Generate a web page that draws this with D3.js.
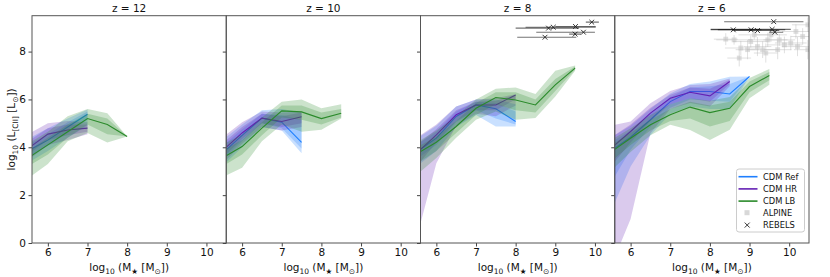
<!DOCTYPE html>
<html>
<head>
<meta charset="utf-8">
<script src="https://cdn.jsdelivr.net/npm/d3@7"></script>
<style>
  body { margin: 0; background: #fff; }
  svg { font-family: "DejaVu Sans", sans-serif; }
</style>
</head>
<body>
<svg id="chart" width="830" height="277"></svg>
<script>
// rows: [log10 M*, median, inner lo, inner hi, outer lo, outer hi]
const redshifts = [12, 10, 8, 6];
const simNames = ["CDM Ref", "CDM HR", "CDM LB"];
const simColors = ["#1e7fff", "#6420b4", "#2a8a2a"];
const xTicks = [6, 7, 8, 9, 10];
const yTicks = [0, 2, 4, 6, 8];

const z12Ref = [[5.5,3.85,3.6,4.1,3.35,4.35],[6,4.3,4.05,4.55,3.85,4.8],[6.5,4.85,4.6,5.05,4.4,5.2],[7,5.38,5.15,5.5,4.9,5.58]];
const z12HR  = [[5.5,3.95,3.7,4.25,3.45,4.55],[6,4.55,4.3,4.8,4.1,5.0],[6.5,4.72,4.5,4.95,4.3,5.1],[7,4.8,4.65,4.95,4.55,5.05]];
const z12LB  = [[5.5,3.55,3.2,3.85,2.7,4.15],[6,4.1,3.7,4.4,3.3,4.65],[6.5,4.65,4.4,4.95,4.25,5.3],[7,5.2,4.95,5.4,4.6,5.6],[7.5,4.95,4.55,5.2,4.2,5.42],[8,4.45,4.45,4.45,4.45,4.45]];

const z10Ref = [[5.5,3.75,3.45,4.05,3.2,4.3],[6,4.5,4.25,4.75,4.0,4.95],[6.5,5.22,5.0,5.4,4.85,5.55],[7,5.05,4.8,5.35,4.7,5.6],[7.5,4.21,3.95,5.15,3.75,5.45]];
const z10HR  = [[5.5,3.85,3.55,4.15,3.3,4.4],[6,4.6,4.35,4.85,4.15,5.05],[6.5,5.22,5.0,5.4,4.85,5.5],[7,5.08,4.85,5.3,4.7,5.45],[7.5,5.28,5.0,5.45,4.85,5.5]];
const z10LB  = [[5.5,3.55,3.2,3.85,2.75,4.1],[6,4.03,3.7,4.3,3.15,4.55],[6.5,4.8,4.5,5.05,4.25,5.25],[7,5.52,5.25,5.75,4.95,5.9],[7.5,5.48,5.15,5.75,4.65,6.0],[8,5.2,4.95,5.45,4.73,5.63],[8.5,5.42,5.25,5.6,5.2,5.8]];

const z8Ref = [[5.5,3.8,3.5,4.1,3.2,4.35],[6,4.38,4.1,4.65,3.85,4.9],[6.5,5.29,5.05,5.5,4.85,5.7],[7,5.77,5.55,5.9,5.35,6.0],[7.5,5.61,5.2,5.85,4.87,6.0],[8,5.08,4.95,5.5,4.87,5.8]];
const z8HR  = [[5.5,3.75,3.2,4.1,0.2,4.4],[6,4.52,4.2,4.75,3.33,4.95],[6.5,5.36,5.1,5.55,4.9,5.7],[7,5.77,5.55,5.9,5.4,6.0],[7.5,5.77,5.55,5.95,5.3,6.05],[8,6.19,6.0,6.2,5.75,6.22]];
const z8LB  = [[5.5,3.72,3.3,4.0,2.85,4.2],[6,4.21,3.85,4.45,3.55,4.7],[6.5,4.87,4.6,5.1,4.4,5.3],[7,5.63,5.35,5.85,5.15,6.0],[7.5,6.08,5.8,6.3,5.5,6.45],[8,5.98,5.55,6.3,5.15,6.5],[8.5,5.77,5.45,6.0,5.22,6.23],[9,6.61,6.35,6.85,6.12,7.2],[9.5,7.31,7.25,7.38,7.2,7.42]];

const z6Ref = [[5.5,3.85,2.5,4.2,1.3,4.4],[6,4.42,3.9,4.7,3.2,4.9],[6.5,5.15,4.85,5.4,4.5,5.6],[7,5.91,5.65,6.1,5.4,6.25],[7.5,6.33,6.0,6.5,5.7,6.65],[8,6.33,5.95,6.55,5.6,6.75],[8.5,6.23,5.9,6.65,5.6,6.95],[9,6.96,6.96,6.96,6.96,6.96]];
const z6HR  = [[5.5,3.95,3.2,4.4,-1.0,4.9],[6,4.66,4.2,4.95,1.0,5.08],[6.5,5.43,5.1,5.65,4.59,5.84],[7,6.05,5.8,6.2,5.6,6.35],[7.5,6.3,6.05,6.5,5.85,6.6],[8,6.15,5.9,6.45,5.7,6.65],[8.5,6.75,6.65,6.82,6.55,6.88]];
const z6LB  = [[5.5,3.8,3.4,4.1,3.0,4.3],[6,4.38,4.1,4.6,3.8,4.8],[6.5,4.94,4.7,5.15,4.5,5.35],[7,5.36,5.1,5.6,4.94,5.8],[7.5,5.68,5.2,5.9,4.72,6.05],[8,5.45,4.87,5.75,4.31,5.95],[8.5,5.63,5.1,5.9,4.73,6.1],[9,6.54,6.3,6.75,6.05,6.9],[9.5,7.0,6.8,7.15,6.61,7.27]];

const panelSeries = [[z12Ref, z12HR, z12LB], [z10Ref, z10HR, z10LB], [z8Ref, z8HR, z8LB], [z6Ref, z6HR, z6LB]];

// observations: [log10 M*, log10 L, M* lower limit, M* upper limit]
const rebelsZ8 = [[9.92,9.23,9.77,10.1],[8.83,8.98,8.0,9.6],[8.95,9.02,8.25,10.02],[9.51,9.05,9.0,10.02],[9.71,8.81,8.52,10.0],[9.5,8.73,9.35,9.65],[8.74,8.6,8.04,9.53]];
const rebelsZ6 = [[9.61,9.25,8.36,10.36],[8.59,8.91,8.02,9.3],[9.04,8.91,8.2,9.9],[9.2,8.88,8.6,9.75],[9.57,8.93,8.02,10.04],[9.64,8.81,9.5,9.85]];
// ALPINE: [log10 M*, log10 L, x err, y err]
const alpineZ6 = [[8.4,8.52,0.3,0.25],[8.61,8.49,0.45,0.2],[8.74,7.73,0.3,0.35],[8.78,8.15,0.4,0.3],[8.95,8.08,0.3,0.4],[9.03,8.42,0.45,0.25],[9.12,8.7,0.4,0.2],[9.2,8.21,0.35,0.4],[9.33,8.08,0.4,0.35],[9.41,7.94,0.3,0.4],[9.46,8.49,0.5,0.3],[9.54,8.7,0.4,0.3],[9.71,8.08,0.35,0.4],[9.75,8.49,0.4,0.25],[9.88,8.28,0.45,0.35],[10.04,8.36,0.4,0.3],[10.17,8.84,0.35,0.3],[10.21,8.21,0.4,0.4],[10.34,8.63,0.3,0.35],[10.47,9.12,0.4,0.3],[10.47,8.08,0.35,0.4]];

const svg = d3.select("#chart");
const plotLeft = 32, panelW = 194.25, plotTop = 15.7, plotBottom = 243;
const y = d3.scaleLinear().domain([0, 9.5]).range([plotBottom, plotTop]);

redshifts.forEach((z, i) => {
  const x0 = plotLeft + i * panelW;
  const x = d3.scaleLinear().domain([5.6, 10.5]).range([x0, x0 + panelW]);
  const g = svg.append("g");

  g.append("clipPath").attr("id", "clip" + i)
    .append("rect").attr("x", x0).attr("y", plotTop).attr("width", panelW).attr("height", plotBottom - plotTop);
  const plot = g.append("g").attr("clip-path", "url(#clip" + i + ")");

  // observational points (drawn underneath)
  if (z === 6) {
    const ag = plot.append("g");
    alpineZ6.forEach(d => {
      ag.append("line").attr("x1", x(d[0] - d[2])).attr("x2", x(d[0] + d[2]))
        .attr("y1", y(d[1])).attr("y2", y(d[1])).attr("stroke", "#bbb").attr("stroke-opacity", 0.45);
      ag.append("line").attr("x1", x(d[0])).attr("x2", x(d[0]))
        .attr("y1", y(d[1] - d[3])).attr("y2", y(d[1] + d[3])).attr("stroke", "#bbb").attr("stroke-opacity", 0.45);
      ag.append("rect").attr("x", x(d[0]) - 2.4).attr("y", y(d[1]) - 2.4)
        .attr("width", 4.8).attr("height", 4.8).attr("fill", "#c8c8c8").attr("fill-opacity", 0.6);
    });
  }

  panelSeries[i].forEach((rows, s) => {
    const col = simColors[s];
    const outer = d3.area().x(d => x(d[0])).y0(d => y(d[4])).y1(d => y(d[5]));
    const inner = d3.area().x(d => x(d[0])).y0(d => y(d[2])).y1(d => y(d[3]));
    plot.append("path").datum(rows).attr("d", outer).attr("fill", col).attr("fill-opacity", 0.24);
    plot.append("path").datum(rows).attr("d", inner).attr("fill", col).attr("fill-opacity", 0.24);
    plot.append("path").datum(rows)
      .attr("d", d3.line().x(d => x(d[0])).y(d => y(d[1])))
      .attr("fill", "none").attr("stroke", col).attr("stroke-width", 1.1);
  });

  const rebels = z === 8 ? rebelsZ8 : z === 6 ? rebelsZ6 : [];
  rebels.forEach(d => {
    plot.append("line").attr("x1", x(d[2])).attr("x2", x(d[3]))
      .attr("y1", y(d[1])).attr("y2", y(d[1])).attr("stroke", "#000").attr("stroke-opacity", 0.55).attr("stroke-width", 1.1);
    const cx = x(d[0]), cy = y(d[1]), r = 2.4;
    plot.append("path").attr("d", `M${cx - r},${cy - r}L${cx + r},${cy + r}M${cx - r},${cy + r}L${cx + r},${cy - r}`)
      .attr("stroke", "#222").attr("stroke-width", 0.9);
  });

  // axes
  const xAxis = g.append("g").attr("transform", `translate(0,${plotBottom})`)
    .call(d3.axisBottom(x).tickValues(xTicks).tickSize(3.5).tickPadding(2).tickFormat(d3.format("d")));
  const yAxis = g.append("g").attr("transform", `translate(${x0},0)`)
    .call(d3.axisLeft(y).tickValues(yTicks).tickSize(3.5).tickPadding(2.5).tickFormat(i === 0 ? d3.format("d") : () => ""));
  [xAxis, yAxis].forEach(a => {
    a.select(".domain").remove();
    a.selectAll("line").attr("stroke", "#444");
    a.selectAll("text").attr("font-size", 10.5).attr("fill", "#111").attr("font-family", "DejaVu Sans");
  });

  g.append("rect").attr("x", x0).attr("y", plotTop).attr("width", panelW).attr("height", plotBottom - plotTop)
    .attr("fill", "none").attr("stroke", "#555").attr("stroke-width", 1);

  g.append("text").attr("x", x0 + panelW / 2).attr("y", 11.5).attr("text-anchor", "middle")
    .attr("font-size", 10.5).attr("fill", "#111").text("z = " + z);

  const xl = g.append("text").attr("x", x0 + panelW / 2).attr("y", 271).attr("text-anchor", "middle")
    .attr("font-size", 10.5).attr("fill", "#111");
  xl.append("tspan").text("log");
  xl.append("tspan").attr("font-size", 7.5).attr("dy", 2.5).text("10");
  xl.append("tspan").attr("dy", -2.5).text(" (M");
  xl.append("tspan").attr("font-size", 7.5).attr("dy", 2.5).text("★");
  xl.append("tspan").attr("dy", -2.5).text(" [M");
  xl.append("tspan").attr("font-size", 7.5).attr("dy", 2.5).text("⊙");
  xl.append("tspan").attr("dy", -2.5).text("])");
});

// y label
const yl = svg.append("text").attr("transform", `translate(15,${(plotTop + plotBottom) / 2}) rotate(-90)`)
  .attr("text-anchor", "middle").attr("font-size", 10.5).attr("fill", "#111");
yl.append("tspan").text("log");
yl.append("tspan").attr("font-size", 7.5).attr("dy", 2.5).text("10");
yl.append("tspan").attr("dy", -2.5).text(" (L");
yl.append("tspan").attr("font-size", 7.5).attr("dy", 2.5).text("[CII]");
yl.append("tspan").attr("dy", -2.5).text(" [L");
yl.append("tspan").attr("font-size", 7.5).attr("dy", 2.5).text("⊙");
yl.append("tspan").attr("dy", -2.5).text("])");

// legend in last panel
const lg = svg.append("g").attr("transform", "translate(736.5,169)");
lg.append("rect").attr("width", 68).attr("height", 63).attr("rx", 2.5)
  .attr("fill", "#fff").attr("fill-opacity", 0.8).attr("stroke", "#ccc");
simNames.forEach((name, s) => {
  const yy = 7.7 + s * 12.2;
  lg.append("line").attr("x1", 2).attr("x2", 21).attr("y1", yy).attr("y2", yy)
    .attr("stroke", simColors[s]).attr("stroke-width", 1.6);
  lg.append("text").attr("x", 26.5).attr("y", yy + 3).attr("font-size", 8.3).attr("fill", "#111").text(name);
});
lg.append("rect").attr("x", 8).attr("y", 41.2).attr("width", 5).attr("height", 5).attr("fill", "#d8d8d8");
lg.append("text").attr("x", 26.5).attr("y", 46.7).attr("font-size", 8.3).attr("fill", "#111").text("ALPINE");
lg.append("path").attr("d", "M8.2,53.6L13.2,58.6M8.2,58.6L13.2,53.6").attr("stroke", "#222").attr("stroke-width", 0.9);
lg.append("text").attr("x", 26.5).attr("y", 59).attr("font-size", 8.3).attr("fill", "#111").text("REBELS");
</script>
</body>
</html>
